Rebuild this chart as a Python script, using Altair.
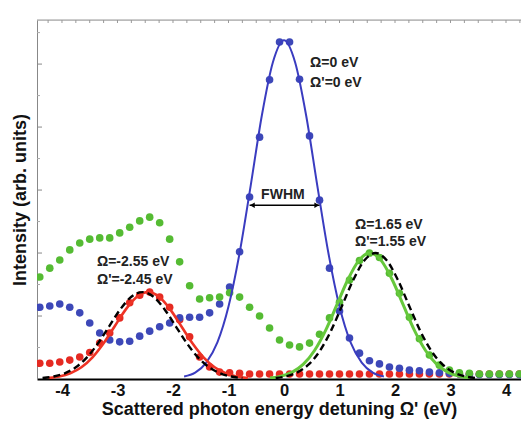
import altair as alt
import pandas as pd

# ---------------- data ----------------
x_grid = [-4.40, -4.22, -4.04, -3.86, -3.68, -3.50, -3.32, -3.14, -2.96, -2.78,
          -2.60, -2.42, -2.24, -2.06, -1.88, -1.70, -1.52, -1.34, -1.16, -0.98,
          -0.80, -0.62, -0.44, -0.26, -0.08, 0.10, 0.28, 0.46, 0.64, 0.82,
          1.00, 1.18, 1.36, 1.54, 1.72, 1.90, 2.08, 2.26, 2.44, 2.62,
          2.80, 2.98, 3.16, 3.34, 3.52, 3.70, 3.88, 4.06, 4.24, 4.42]

red_pts = [0.25, 0.25, 0.27, 0.30, 0.35, 0.42, 0.57, 0.73, 0.97, 1.21,
           1.33, 1.38, 1.30, 1.14, 0.94, 0.67, 0.35, 0.19, 0.11, 0.10,
           0.09, 0.08, 0.08, 0.08, 0.08, 0.08, 0.08, 0.08, 0.08, 0.08,
           0.08, 0.08, 0.08, 0.08, 0.08, 0.08, 0.08, 0.08, 0.08, 0.08,
           0.08, 0.08, 0.08, 0.08, 0.08, 0.08, 0.08, 0.08, 0.08, 0.08]

blue_pts = [1.14, 1.16, 1.19, 1.14, 1.05, 0.89, 0.73, 0.62, 0.59, 0.60,
            0.68, 0.76, 0.83, 0.89, 0.97, 0.98, 0.98, 1.05, 1.19, 1.46,
            2.02, 2.89, 3.84, 4.75, 5.35, 5.35, 4.76, 3.86, 2.84, 1.76,
            1.08, 0.65, 0.41, 0.29, 0.24, 0.19, 0.17, 0.14, 0.13, 0.11,
            0.10, 0.09, 0.08, 0.07, 0.07, 0.07, 0.07, 0.07, 0.07, 0.07]

green_pts = [1.62, 1.76, 1.89, 2.05, 2.16, 2.22, 2.24, 2.24, 2.32, 2.41,
             2.51, 2.57, 2.48, 2.22, 1.86, 1.48, 1.27, 1.29, 1.30, 1.37,
             1.30, 1.14, 1.00, 0.81, 0.62, 0.54, 0.51, 0.57, 0.71, 0.97,
             1.22, 1.57, 1.88, 2.00, 1.93, 1.68, 1.36, 0.98, 0.64, 0.38,
             0.22, 0.14, 0.10, 0.09, 0.08, 0.08, 0.08, 0.08, 0.08, 0.08]

blue_fit_x = [-1.8, -1.6, -1.4, -1.2, -1.0, -0.8, -0.6, -0.4, -0.2, 0.0,
              0.2, 0.4, 0.6, 0.8, 1.0, 1.2, 1.4, 1.6, 1.8]
blue_fit_y = [0.04, 0.10, 0.26, 0.58, 1.15, 2.00, 3.07, 4.18, 5.03, 5.38,
              5.03, 4.18, 3.07, 2.00, 1.15, 0.58, 0.26, 0.10, 0.04]

red_fit_x = [-4.25, -4.05, -3.85, -3.65, -3.45, -3.25, -3.05, -2.85, -2.65, -2.45,
             -2.25, -2.05, -1.85, -1.65, -1.45, -1.25, -1.05, -0.85, -0.65]
red_fit_y = [0.015, 0.039, 0.091, 0.186, 0.344, 0.567, 0.837, 1.105, 1.305, 1.38,
             1.305, 1.105, 0.837, 0.567, 0.344, 0.186, 0.091, 0.039, 0.015]

red_dash_x = [-4.35, -4.15, -3.95, -3.75, -3.55, -3.35, -3.15, -2.95, -2.75, -2.55,
              -2.35, -2.15, -1.95, -1.75, -1.55, -1.35, -1.15, -0.95, -0.75]
red_dash_y = red_fit_y

green_fit_x = [-0.25, -0.05, 0.15, 0.35, 0.55, 0.75, 0.95, 1.15, 1.35, 1.55,
               1.75, 1.95, 2.15, 2.35, 2.55, 2.75, 2.95, 3.15, 3.35]
green_fit_y = [0.016, 0.045, 0.109, 0.235, 0.452, 0.772, 1.172, 1.576, 1.884, 2.0,
               1.884, 1.576, 1.172, 0.772, 0.452, 0.235, 0.109, 0.045, 0.016]

green_dash_x = [-0.15, 0.05, 0.25, 0.45, 0.65, 0.85, 1.05, 1.25, 1.45, 1.65,
                1.85, 2.05, 2.25, 2.45, 2.65, 2.85, 3.05, 3.25, 3.45]
green_dash_y = green_fit_y

x_ticks = [-4, -3, -2, -1, 0, 1, 2, 3, 4]
y_major = [1, 2, 3, 4, 5]
y_minor = [0.5, 1.5, 2.5, 3.5, 4.5, 5.5]
top_minor = [-4.25, -4.0, -3.75, -3.5, -3.25, -3.0, -2.75, -2.5, -2.25, -2.0,
             -1.75, -1.5, -1.25, -1.0, -0.75, -0.5, -0.25, 0.0, 0.25, 0.5,
             0.75, 1.0, 1.25, 1.5, 1.75, 2.0, 2.25, 2.5, 2.75, 3.0, 3.25,
             3.5, 3.75, 4.0, 4.25]

ann_labels = ["Ω=0 eV", "Ω'=0 eV", "Ω=1.65 eV", "Ω'=1.55 eV", "Ω=-2.55 eV", "Ω'=-2.45 eV"]
ann_x = [0.47, 0.47, 1.28, 1.28, -3.37, -3.37]
ann_y = [5.02, 4.70, 2.44, 2.18, 1.86, 1.57]

fwhm_left, fwhm_right, fwhm_level = -0.62, 0.64, 2.76

# ---------------- chart ----------------
W, H = 484, 359
XMIN, XMAX = -4.45, 4.27
YMIN, YMAX = 0.0, 5.70
FONT = "Liberation Sans"

xs = alt.Scale(domain=[XMIN, XMAX], nice=False, zero=False)
ys = alt.Scale(domain=[YMIN, YMAX], nice=False, zero=False)

x_axis = alt.Axis(values=x_ticks, labelExpr="'' + datum.value", ticks=False,
                  grid=False, domainColor="#000", domainWidth=2,
                  labelFont=FONT, labelFontSize=16.5, labelFontWeight="bold",
                  labelColor="#111", labelPadding=3,
                  title="Scattered photon energy detuning Ω' (eV)",
                  titleFont=FONT, titleFontSize=18, titleFontWeight="bold",
                  titleColor="#111", titlePadding=2)
y_axis = alt.Axis(labels=False, ticks=False, grid=False, domainColor="#888",
                  domainWidth=1, title="Intensity (arb. units)",
                  titleFont=FONT, titleFontSize=18, titleFontWeight="bold",
                  titleColor="#111", titlePadding=8)


def X(field="x"):
    return alt.X(f"{field}:Q", scale=xs, axis=x_axis)


def Y(field="y"):
    return alt.Y(f"{field}:Q", scale=ys, axis=y_axis)


pts = pd.DataFrame({
    "x": x_grid * 3,
    "y": red_pts + blue_pts + green_pts,
    "s": ["red"] * len(x_grid) + ["blue"] * len(x_grid) + ["green"] * len(x_grid),
})
dot_colors = alt.Scale(domain=["red", "blue", "green"],
                       range=["#e52a22", "#3d48b8", "#55bb33"])

dots = alt.Chart(pts).mark_circle(size=58, opacity=1, clip=True).encode(
    x=X(), y=Y(),
    color=alt.Color("s:N", scale=dot_colors, legend=None),
)


def curve(xv, yv, color, width, dash=None):
    df = pd.DataFrame({"x": xv, "y": yv})
    kw = dict(color=color, strokeWidth=width, interpolate="monotone", clip=True)
    if dash:
        kw["strokeDash"] = dash
    return alt.Chart(df).mark_line(**kw).encode(x=X(), y=Y())


blue_line = curve(blue_fit_x, blue_fit_y, "#3a3cc0", 2)
red_line = curve(red_fit_x, red_fit_y, "#ee3325", 2.6)
green_line = curve(green_fit_x, green_fit_y, "#66c83c", 3)
red_dash = curve(red_dash_x, red_dash_y, "#000", 2.4, [7, 4])
green_dash = curve(green_dash_x, green_dash_y, "#000", 2.4, [7, 4])

# frame decorations
top_line = alt.Chart(pd.DataFrame({"a": [0]})).mark_rule(color="#999", strokeWidth=1).encode(
    x=alt.value(0), x2=alt.value(W), y=alt.value(0))
top_ticks = alt.Chart(pd.DataFrame({"x": top_minor})).mark_rule(color="#999").encode(
    x=X(), y=alt.value(0), y2=alt.value(3))
left_major = alt.Chart(pd.DataFrame({"y": y_major})).mark_rule(color="#888").encode(
    y=Y(), x=alt.value(0), x2=alt.value(5))
left_minor = alt.Chart(pd.DataFrame({"y": y_minor})).mark_rule(color="#aaa").encode(
    y=Y(), x=alt.value(0), x2=alt.value(3))

# FWHM arrow
fw = pd.DataFrame({"x": [fwhm_left], "x2": [fwhm_right], "y": [fwhm_level]})
fwhm_rule = alt.Chart(fw).mark_rule(color="#000", strokeWidth=1.5).encode(
    x=X(), x2="x2:Q", y=Y())
heads = pd.DataFrame({"x": [fwhm_left + 0.05, fwhm_right - 0.05],
                      "y": [fwhm_level, fwhm_level],
                      "shape": ["triangle-left", "triangle-right"]})
fwhm_heads = alt.Chart(heads).mark_point(filled=True, size=30, color="#000", opacity=1).encode(
    x=X(), y=Y(),
    shape=alt.Shape("shape:N", scale=None, legend=None))
fwhm_text = alt.Chart(pd.DataFrame({"t": ["FWHM"], "x": [-0.02], "y": [2.92]})).mark_text(
    font=FONT, fontSize=14, fontWeight="bold", color="#222", align="center", baseline="middle"
).encode(x=X(), y=Y(), text="t:N")

ann = alt.Chart(pd.DataFrame({"t": ann_labels, "x": ann_x, "y": ann_y})).mark_text(
    font=FONT, fontSize=14, fontWeight="bold", color="#222", align="left", baseline="middle"
).encode(x=X(), y=Y(), text="t:N")

chart = alt.layer(
    dots, blue_line, red_line, green_line, red_dash, green_dash,
    top_line, top_ticks, left_major, left_minor,
    fwhm_rule, fwhm_heads, fwhm_text, ann,
).properties(
    width=W, height=H,
    autosize=alt.AutoSizeParams(type="none"),
    padding={"left": 29, "top": 12, "right": 0, "bottom": 44},
).configure_view(stroke=None).configure(background="white")

chart.save("out.html", embed_options={"renderer": "svg", "actions": False})
